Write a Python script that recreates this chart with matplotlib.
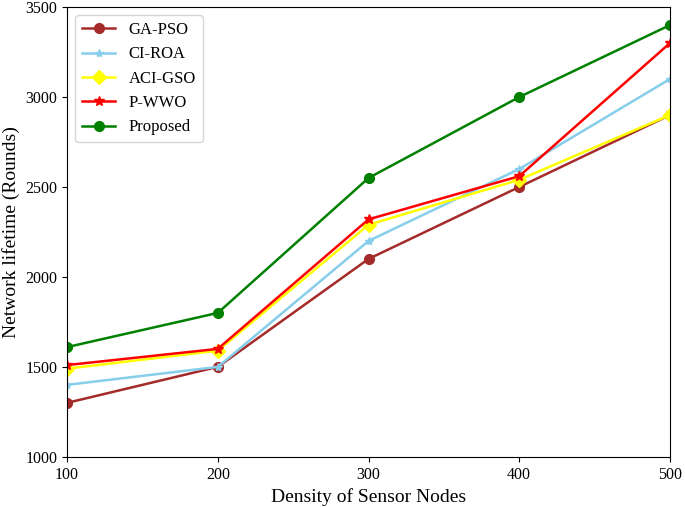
import matplotlib
matplotlib.use("Agg")
import matplotlib.pyplot as plt

plt.rcParams['font.family'] = ['Liberation Serif', 'DejaVu Serif']

density = [100, 200, 300, 400, 500]
ga_pso = [1300, 1500, 2100, 2500, 2900]
ci_roa = [1400, 1500, 2200, 2600, 3100]
aci_gso = [1490, 1590, 2290, 2540, 2900]
p_wwo = [1510, 1600, 2320, 2560, 3300]
proposed = [1610, 1800, 2550, 3000, 3400]

fig = plt.figure(figsize=(6.85, 5.07), dpi=100)
ax = fig.add_axes([0.098, 0.099, 0.880, 0.887])

ax.plot(density, ga_pso, color='brown', marker='o', markersize=7, linewidth=1.8, label='GA-PSO')
ax.plot(density, ci_roa, color='skyblue', marker='*', markersize=6, linewidth=1.8, label='CI-ROA')
ax.plot(density, aci_gso, color='yellow', marker='D', markersize=7, linewidth=1.8, label='ACI-GSO')
ax.plot(density, p_wwo, color='red', marker='*', markersize=7, linewidth=1.8, label='P-WWO')
ax.plot(density, proposed, color='green', marker='o', markersize=7, linewidth=1.8, label='Proposed')

ax.set_xlim(100, 500)
ax.set_ylim(1000, 3500)
ax.set_xticks([100, 200, 300, 400, 500])
ax.set_yticks([1000, 1500, 2000, 2500, 3000, 3500])
ax.tick_params(labelsize=11.5)
ax.set_xlabel('Density of Sensor Nodes', fontsize=14)
ax.set_ylabel('Network lifetime (Rounds)', fontsize=14)
ax.legend(loc='upper left', fontsize=12)

fig.savefig('out.png', dpi=100)
